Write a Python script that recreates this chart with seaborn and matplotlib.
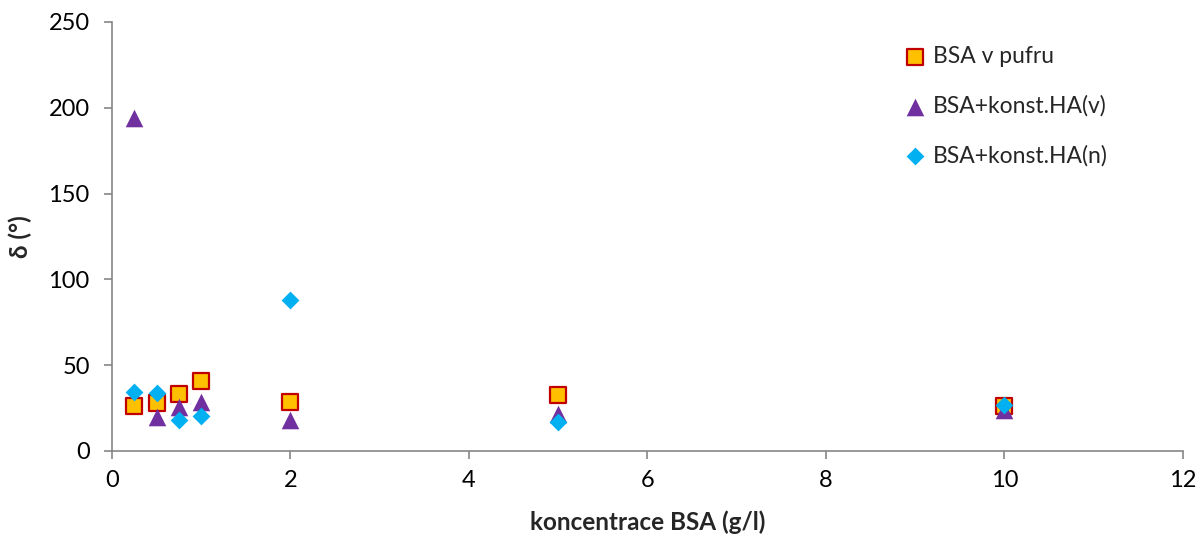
import matplotlib
matplotlib.use("Agg")
import matplotlib.pyplot as plt
import seaborn as sns
import pandas as pd

# BSA concentration (g/l)
koncentrace = [0.25, 0.5, 0.75, 1, 2, 5, 10]
# phase angle delta (deg) for each series
bsa_pufr = [26, 28, 33, 41, 28.5, 32.5, 26]
bsa_ha_v = [194, 20, 25.5, 28.5, 18, 21.5, 24]
bsa_ha_n = [34.5, 34, 18, 20.5, 88, 17, 27]

series_names = ["BSA v pufru", "BSA+konst.HA(v)", "BSA+konst.HA(n)"]
x_ticks = [0, 2, 4, 6, 8, 10, 12]
y_ticks = [0, 50, 100, 150, 200, 250]

df = pd.DataFrame({
    "x": koncentrace * 3,
    "y": bsa_pufr + bsa_ha_v + bsa_ha_n,
    "serie": sum([[n] * len(koncentrace) for n in series_names], []),
})

sns.set_theme(style="white")
plt.rcParams["font.family"] = ["Lato", "DejaVu Sans"]

fig = plt.figure(figsize=(12, 5.39), dpi=100)
ax = fig.add_axes([0.0933, 0.1633, 0.8925, 0.7959])

styles = {
    "BSA v pufru": dict(marker="s", s=118, color="#FFC000", edgecolor="#C00000", linewidth=1.6),
    "BSA+konst.HA(v)": dict(marker="^", s=160, color="#7030A0", edgecolor="#7030A0", linewidth=0),
    "BSA+konst.HA(n)": dict(marker="D", s=82, color="#00B0F0", edgecolor="#00B0F0", linewidth=0),
}
for name in series_names:
    sub = df[df["serie"] == name]
    sns.scatterplot(data=sub, x="x", y="y", ax=ax, label=name, zorder=3, **styles[name])

ax.set_xlim(0, 12)
ax.set_ylim(0, 250)
ax.set_xticks(x_ticks)
ax.set_yticks(y_ticks)
ax.tick_params(axis="both", labelsize=17, labelcolor="#000000", length=6, width=1.2,
               direction="out", left=True, bottom=True, color="#868686")
ax.tick_params(axis="y", pad=10)
ax.tick_params(axis="x", pad=8)
for side in ["top", "right"]:
    ax.spines[side].set_visible(False)
for side in ["left", "bottom"]:
    ax.spines[side].set_color("#868686")
    ax.spines[side].set_linewidth(1.2)

ax.set_xlabel("koncentrace BSA (g/l)", fontsize=17.5, fontweight="bold", labelpad=14)
ax.set_ylabel("δ (°)", fontsize=17.5, fontweight="bold", labelpad=12)

leg = ax.legend(loc="upper left", bbox_to_anchor=(0.7255, 0.965), frameon=False,
                fontsize=16.5, labelspacing=1.22, handletextpad=0.0, handlelength=1.5,
                borderaxespad=0)

fig.savefig("out.png", dpi=100, facecolor="white")
